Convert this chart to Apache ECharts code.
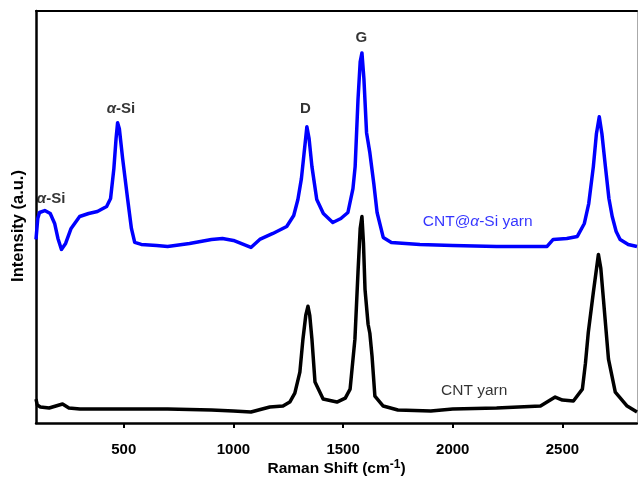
<!DOCTYPE html>
<html>
<head>
<meta charset="utf-8">
<script src="https://cdn.jsdelivr.net/npm/echarts@6/dist/echarts.min.js"></script>
<style>
  html, body { margin: 0; padding: 0; background: #fff; }
  #chart { width: 638px; height: 477px; }
</style>
</head>
<body>
<div id="chart"></div>
<script>
// Raman shift (cm-1) and intensity (a.u.)
const siShift = [100, 108, 116, 140, 165, 185, 200, 216, 235, 260, 299, 340, 380, 422, 440, 455, 465, 472, 480, 495,
  518, 535, 550, 580, 650, 700, 800, 900, 950, 1000, 1080, 1120, 1180, 1243, 1275, 1294, 1310, 1322, 1335, 1345,
  1358, 1380, 1410, 1453, 1490, 1522, 1545, 1555, 1568, 1578, 1586, 1595, 1607, 1622, 1640, 1655, 1683, 1720, 1850, 2000,
  2200, 2430, 2458, 2520, 2568, 2600, 2620, 2641, 2655, 2668, 2680, 2696, 2712, 2727, 2745, 2763, 2800, 2840];
const siIntensity = [184, 205, 211, 213, 210, 200, 185, 174, 180, 195, 207, 210, 212, 217, 225, 255, 285, 301, 295, 265,
  224, 195, 181, 179, 178, 177, 180, 184, 185, 183, 176, 184, 190, 197, 208, 224, 245, 270, 297, 285,
  257, 224, 210, 201, 205, 211, 235, 257, 324, 362, 371, 345, 291, 271, 240, 211, 186, 181, 179, 178,
  177, 177, 184, 185, 187, 200, 220, 257, 290, 307, 290, 257, 225, 207, 192, 184, 179, 177];

const cntShift = [100, 106, 120, 160, 221, 250, 300, 500, 700, 900, 1000, 1080, 1166, 1226, 1257, 1280, 1303, 1317, 1330, 1340,
  1348, 1358, 1372, 1409, 1472, 1510, 1532, 1554, 1568, 1578, 1586, 1593, 1600, 1614, 1622, 1632, 1645, 1683, 1750, 1900,
  2000, 2200, 2400, 2467, 2500, 2550, 2591, 2605, 2618, 2641, 2664, 2675, 2687, 2710, 2741, 2795, 2840];
const cntIntensity = [24, 18, 16, 15, 19, 15, 14, 14, 14, 13, 12, 11, 16, 17, 21, 30, 51, 84, 108, 117,
  108, 84, 41, 24, 21, 25, 34, 84, 151, 195, 207, 180, 134, 99, 90, 67, 27, 17, 13, 12,
  14, 15, 17, 26, 23, 22, 34, 60, 91, 131, 169, 155, 124, 64, 31, 17, 11];

const xTicks = [500, 1000, 1500, 2000, 2500];

// peak labels and curve names (data coordinates)
const noteText = ['{i|α}-Si', '{i|α}-Si', 'D', 'G'];
const noteShift = [171, 490, 1331, 1586];
const noteIntensity = [224, 314, 314, 386];

const nameText = ['CNT@{ib|α}-Si yarn', 'CNT yarn'];
const nameShift = [2116, 2100];
const nameIntensity = [201, 32];
const nameColor = ['#0000ff', '#000000'];

const FONT = 'Arial, "Liberation Sans", sans-serif';
const zip = (xs, ys) => xs.map((x, i) => [x, ys[i]]);

const chart = echarts.init(document.getElementById('chart'));

chart.setOption({
  animation: false,
  backgroundColor: '#fff',
  grid: { left: 36, right: 1, top: 11, bottom: 54, outerBoundsMode: 'none', containLabel: false },
  xAxis: [
    {
      type: 'value',
      min: 100,
      max: 2840,
      name: 'Raman Shift (cm{sup|-1})',
      nameLocation: 'middle',
      nameGap: 36,
      nameMoveOverlap: false,
      nameTextStyle: {
        fontFamily: FONT, fontSize: 15.5, fontWeight: 'bold', color: '#000',
        rich: { sup: { fontFamily: FONT, fontSize: 12, fontWeight: 'bold', color: '#000', verticalAlign: 'top', padding: [0, 0, 8, 0] } }
      },
      axisLine: { show: true, lineStyle: { color: '#000', width: 2.5 } },
      axisTick: { show: true, length: 5, inside: false, customValues: xTicks, lineStyle: { color: '#000', width: 2 } },
      axisLabel: {
        customValues: xTicks, margin: 19, formatter: (v) => String(v),
        fontFamily: FONT, fontSize: 15, fontWeight: 'bold', color: '#000'
      },
      splitLine: { show: false }
    },
    {
      type: 'value',
      position: 'top',
      min: 100,
      max: 2840,
      axisLine: { show: true, onZero: false, lineStyle: { color: '#000', width: 2 } },
      axisTick: { show: false },
      axisLabel: { show: false },
      splitLine: { show: false }
    }
  ],
  yAxis: [
    {
      type: 'value',
      min: 0,
      max: 413,
      name: 'Intensity (a.u.)',
      nameLocation: 'middle',
      nameGap: 9,
      nameMoveOverlap: false,
      nameTextStyle: { fontFamily: FONT, fontSize: 16.5, fontWeight: 'bold', color: '#000', padding: [0, 18, 0, 0] },
      axisLine: { show: true, lineStyle: { color: '#000', width: 2.5 } },
      axisTick: { show: false },
      axisLabel: { show: false },
      splitLine: { show: false }
    },
    {
      type: 'value',
      position: 'right',
      min: 0,
      max: 413,
      axisLine: { show: true, onZero: false, lineStyle: { color: '#aaa', width: 1 } },
      axisTick: { show: false },
      axisLabel: { show: false },
      splitLine: { show: false }
    }
  ],
  series: [
    {
      name: 'CNT yarn',
      type: 'line',
      showSymbol: false,
      data: zip(cntShift, cntIntensity),
      lineStyle: { color: '#000', width: 3.5, join: 'round' }
    },
    {
      name: 'CNT@α-Si yarn',
      type: 'line',
      showSymbol: false,
      data: zip(siShift, siIntensity),
      lineStyle: { color: '#0000ff', width: 3.5, join: 'round' }
    },
    {
      name: 'peaks',
      type: 'scatter',
      silent: true,
      symbolSize: 1,
      itemStyle: { color: 'transparent' },
      data: noteText.map((t, i) => ({ value: [noteShift[i], noteIntensity[i]], name: t })),
      label: {
        show: true,
        position: [0, 0],
        align: 'center',
        verticalAlign: 'middle',
        formatter: (p) => p.name,
        fontFamily: FONT, fontSize: 15, fontWeight: 'bold', color: '#000',
        rich: { i: { fontFamily: FONT, fontSize: 15, fontWeight: 'bold', fontStyle: 'italic', color: '#000' } }
      }
    },
    {
      name: 'names',
      type: 'scatter',
      silent: true,
      symbolSize: 1,
      itemStyle: { color: 'transparent' },
      data: nameText.map((t, i) => ({
        value: [nameShift[i], nameIntensity[i]],
        name: t,
        label: {
          color: nameColor[i],
          rich: { ib: { fontFamily: FONT, fontSize: 15.5, fontStyle: 'italic', color: nameColor[i] } }
        }
      })),
      label: {
        show: true,
        position: [0, 0],
        align: 'center',
        verticalAlign: 'middle',
        formatter: (p) => p.name,
        fontFamily: FONT, fontSize: 15.5, fontWeight: 'normal'
      }
    }
  ]
});
</script>
</body>
</html>
